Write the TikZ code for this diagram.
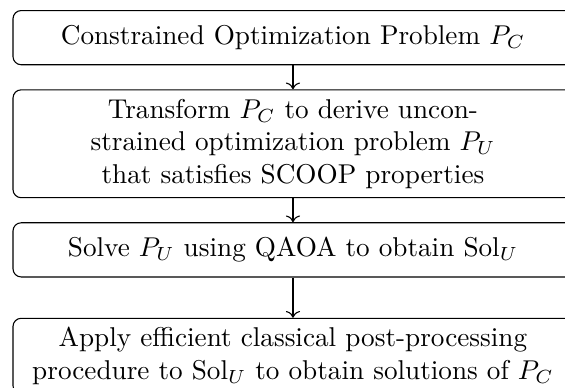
\documentclass[tikz,border=0pt]{standalone}
\usepackage{amsmath,amssymb}
\usepackage{tikz}
\usetikzlibrary{arrows.meta,positioning}

\begin{document}
\begin{tikzpicture}[
  node distance=0.31cm,
  stepbox/.style={rectangle, draw, rounded corners=3pt, text width=7cm,
                  minimum height=7mm, align=center},
  flow/.style={->},
]
  \useasboundingbox (-107.7pt,3.68pt) rectangle (100pt,-138.6pt);

  % -- Pipeline steps --
  \node[stepbox, anchor=north] (cop) at (0,0) {Constrained Optimization Problem $P_C$};
  \node[stepbox, below=of cop] (transform) {Transform $P_C$ to derive uncon-\\strained optimization problem $P_U$\\that satisfies SCOOP properties};
  \node[stepbox, below=of transform] (qaoa) {Solve $P_U$ using QAOA to obtain $\mathrm{Sol}_U$};
  \node[stepbox, below=0.52cm of qaoa] (post) {Apply efficient classical post-processing\\procedure to $\mathrm{Sol}_U$ to obtain solutions of $P_C$};

  % Connections
  \draw[flow] (cop) -- (transform);
  \draw[flow] (transform) -- (qaoa);
  \draw[flow] (qaoa) -- (post);

\end{tikzpicture}
\end{document}
